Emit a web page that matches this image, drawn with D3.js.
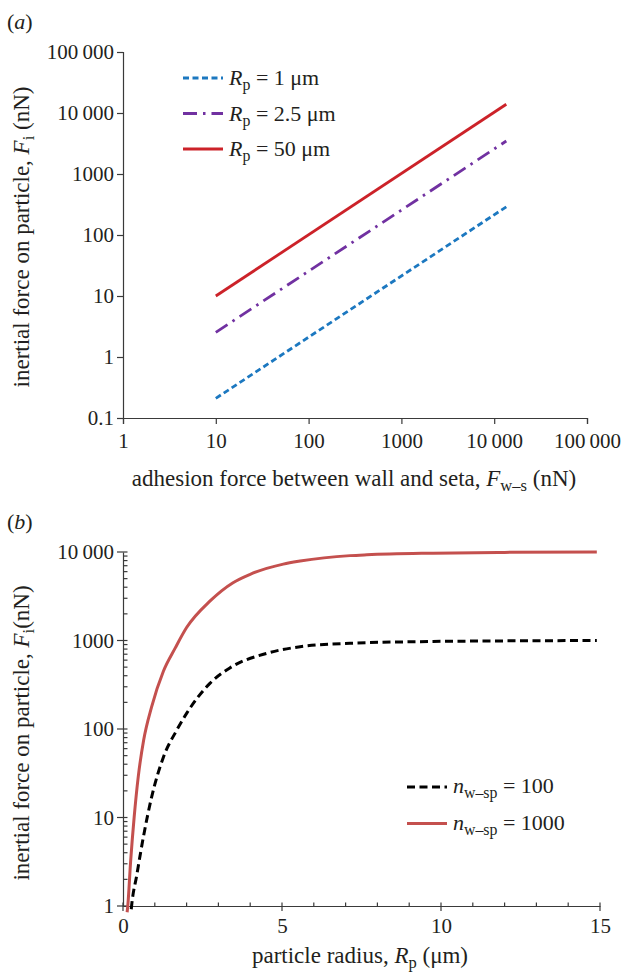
<!DOCTYPE html>
<html>
<head>
<meta charset="utf-8">
<script src="https://cdnjs.cloudflare.com/ajax/libs/d3/7.8.5/d3.min.js"></script>
<style>
  body { margin: 0; background: #fff; }
  svg text { font-family: "Liberation Serif", "Times New Roman", serif; fill: #231f20; }
</style>
</head>
<body>
<div id="fig"></div>
<script>
// panel (a): log-log lines
var adhesionF = [10, 13500];          // F_w-s (nN)
var fiRp1 = [0.21, 290];              // R_p = 1 um
var fiRp25 = [2.54, 3475];            // R_p = 2.5 um
var fiRp50 = [10, 13900];             // R_p = 50 um
var topXTicks = [1, 10, 100, 1000, 10000, 100000];
var topXLabels = ["1", "10", "100", "1000", "10\u2009000", "100\u2009000"];
var topYTicks = [0.1, 1, 10, 100, 1000, 10000, 100000];
var topYLabels = ["0.1", "1", "10", "100", "1000", "10\u2009000", "100\u2009000"];

// panel (b): inertial force vs particle radius
var radiusN100 = [0.26, 0.27, 0.43, 0.64, 0.9, 1.27, 1.69, 2.0, 2.74, 3.36, 4.52, 5.57, 7.14, 9.75, 12, 14.9];
var fiN100 = [0.92, 1, 2.2, 6, 17, 48, 97, 150, 330, 490, 716, 850, 930, 975, 990, 1000];
var radiusN1000 = [0.13, 0.15, 0.24, 0.35, 0.48, 0.65, 0.9, 1.27, 1.64, 2.0, 2.74, 3.46, 4.0, 5.04, 5.57, 7.14, 7.67, 9.75, 12, 14.9];
var fiN1000 = [0.85, 1, 3.2, 10, 29, 75, 178, 450, 820, 1400, 2800, 4500, 5600, 7300, 7900, 9100, 9300, 9700, 9900, 10000];
var botXTicks = [0, 5, 10, 15];
var botYTicks = [1, 10, 100, 1000, 10000];
var botYLabels = ["1", "10", "100", "1000", "10\u2009000"];

var w = 624, h = 974;
var axisCol = '#3a3a3a';
var fs = 21;      // tick labels
var fsLab = 23;   // axis titles
var fsLeg = 22;   // legends

var svg = d3.select("#fig").append("svg")
   .attr("width", w)
   .attr("height", h);

function sub(t, main, subtxt, size) {
  t.append("tspan").attr("font-style", "italic").text(main);
  t.append("tspan").attr("font-size", size * 0.72).attr("dy", 5).text(subtxt);
}

// ---------- panel (a) ----------
var x1 = d3.scaleLog().domain([1, 100000]).range([123, 587]);
var y1 = d3.scaleLog().domain([0.1, 100000]).range([418, 52]);

svg.append("text").attr("x", 7).attr("y", 29).attr("font-size", fsLeg)
   .html('(<tspan font-style="italic">a</tspan>)');

var gx1 = svg.append("g").attr("transform", "translate(0,418)")
   .call(d3.axisBottom(x1).tickValues(topXTicks).tickSize(6)
     .tickFormat(function(d, i) { return topXLabels[i]; }));
var gy1 = svg.append("g").attr("transform", "translate(123,0)")
   .call(d3.axisLeft(y1).tickValues(topYTicks).tickSize(6)
     .tickFormat(function(d, i) { return topYLabels[i]; }));

[gx1, gy1].forEach(function(g) {
  g.select(".domain").attr("stroke", axisCol).attr("stroke-width", 1.2);
  g.selectAll(".tick line").attr("stroke", axisCol).attr("stroke-width", 1.2);
  g.selectAll("text").attr("font-size", fs).attr("font-family", null).attr("fill", "#231f20");
});
gx1.selectAll("text").attr("dy", "1.0em");
gy1.selectAll("text").attr("x", -9);

var topSeries = [
  {v: fiRp1, col: '#1c78c0', dash: '6,3.5'},
  {v: fiRp25, col: '#7131a1', dash: '14,6,2.5,6'},
  {v: fiRp50, col: '#cc2229', dash: null}
];
var line1 = d3.line()
   .x(function(d, i) { return x1(adhesionF[i]); })
   .y(function(d) { return y1(d); });

svg.selectAll("path.top")
   .data(topSeries)
   .enter()
   .append("path")
   .attr("class", "top")
   .attr("d", function(d) { return line1(d.v); })
   .attr("fill", "none")
   .attr("stroke", function(d) { return d.col; })
   .attr("stroke-width", 2.8)
   .attr("stroke-dasharray", function(d) { return d.dash; });

var topLeg = [{s: topSeries[0], t: " = 1 \u03bcm"}, {s: topSeries[1], t: " = 2.5 \u03bcm"}, {s: topSeries[2], t: " = 50 \u03bcm"}];
topLeg.forEach(function(d, i) {
  var yy = 78 + i * 35.5;
  svg.append("line").attr("x1", 183).attr("x2", 223).attr("y1", yy).attr("y2", yy)
     .attr("stroke", d.s.col).attr("stroke-width", 2.8).attr("stroke-dasharray", d.s.dash);
  var t = svg.append("text").attr("x", 229).attr("y", yy + 7).attr("font-size", fsLeg);
  sub(t, "R", "p", fsLeg);
  t.append("tspan").attr("dy", -5).text(d.t);
});

var xl1 = svg.append("text").attr("x", 354).attr("y", 486).attr("font-size", fsLab).attr("text-anchor", "middle");
xl1.append("tspan").text("adhesion force between wall and seta, ");
sub(xl1, "F", "w\u2013s", fsLab);
xl1.append("tspan").attr("dy", -5).text(" (nN)");

var yl1 = svg.append("text").attr("transform", "translate(29,237) rotate(-90)").attr("font-size", fsLab).attr("text-anchor", "middle");
yl1.append("tspan").text("inertial force on particle, ");
sub(yl1, "F", "i", fsLab);
yl1.append("tspan").attr("dy", -5).text(" (nN)");

// ---------- panel (b) ----------
var x2 = d3.scaleLinear().domain([0, 15]).range([123, 600]);
var y2 = d3.scaleLog().domain([1, 10000]).range([906, 552]);

svg.append("text").attr("x", 7).attr("y", 529).attr("font-size", fsLeg)
   .html('(<tspan font-style="italic">b</tspan>)');

var gx2 = svg.append("g").attr("transform", "translate(0,906)")
   .call(d3.axisBottom(x2).tickValues(botXTicks).tickSize(0).tickPadding(0));
var gy2 = svg.append("g").attr("transform", "translate(123,0)")
   .call(d3.axisLeft(y2).tickValues(botYTicks).tickSize(0).tickPadding(0)
     .tickFormat(function(d, i) { return botYLabels[i]; }));
[gx2, gy2].forEach(function(g) {
  g.select(".domain").attr("stroke", axisCol).attr("stroke-width", 1.2);
  g.selectAll("text").attr("font-size", fs).attr("font-family", null).attr("fill", "#231f20");
});
gx2.selectAll("text").attr("dy", "1.3em");
gy2.selectAll("text").attr("x", -9);

// x ticks: majors cross the axis, minors inside
var xMinor = d3.range(0, 16);
svg.append("g").selectAll("line")
   .data(xMinor)
   .enter()
   .append("line")
   .attr("x1", function(d) { return x2(d); })
   .attr("x2", function(d) { return x2(d); })
   .attr("y1", function(d) { return d % 5 === 0 ? 911 : 906; })
   .attr("y2", 902.5)
   .attr("stroke", axisCol).attr("stroke-width", 1.2);

// y ticks
var yMinor = [];
botYTicks.forEach(function(d) {
  if (d < 10000) d3.range(2, 10).forEach(function(k) { yMinor.push(d * k); });
});
svg.append("g").selectAll("line")
   .data(botYTicks.concat(yMinor))
   .enter()
   .append("line")
   .attr("x1", function(d) { return botYTicks.indexOf(d) >= 0 ? 117 : 123; })
   .attr("x2", 127.5)
   .attr("y1", function(d) { return y2(d); })
   .attr("y2", function(d) { return y2(d); })
   .attr("stroke", axisCol).attr("stroke-width", 1.2);

var botSeries = [
  {r: radiusN100, v: fiN100, col: '#000000', dash: '8,4.5'},
  {r: radiusN1000, v: fiN1000, col: '#c4504e', dash: null}
];
svg.selectAll("path.bot")
   .data(botSeries)
   .enter()
   .append("path")
   .attr("class", "bot")
   .attr("d", function(s) {
     return d3.line().curve(d3.curveMonotoneX)
       .x(function(d, i) { return x2(s.r[i]); })
       .y(function(d) { return y2(d); })(s.v);
   })
   .attr("fill", "none")
   .attr("stroke", function(d) { return d.col; })
   .attr("stroke-width", 3)
   .attr("stroke-dasharray", function(d) { return d.dash; });

var botLeg = [{s: botSeries[0], t: " = 100"}, {s: botSeries[1], t: " = 1000"}];
botLeg.forEach(function(d, i) {
  var yy = 787 + i * 36.5;
  svg.append("line").attr("x1", 407).attr("x2", 447).attr("y1", yy).attr("y2", yy)
     .attr("stroke", d.s.col).attr("stroke-width", 3).attr("stroke-dasharray", d.s.dash);
  var t = svg.append("text").attr("x", 453).attr("y", yy + 6).attr("font-size", fsLeg);
  sub(t, "n", "w\u2013sp", fsLeg);
  t.append("tspan").attr("dy", -5).text(d.t);
});

var xl2 = svg.append("text").attr("x", 360).attr("y", 963).attr("font-size", fsLab).attr("text-anchor", "middle");
xl2.append("tspan").text("particle radius, ");
sub(xl2, "R", "p", fsLab);
xl2.append("tspan").attr("dy", -5).text(" (\u03bcm)");

var yl2 = svg.append("text").attr("transform", "translate(29,733) rotate(-90)").attr("font-size", fsLab).attr("text-anchor", "middle");
yl2.append("tspan").text("inertial force on particle, ");
sub(yl2, "F", "i", fsLab);
yl2.append("tspan").attr("dy", -5).text("(nN)");
</script>
</body>
</html>
